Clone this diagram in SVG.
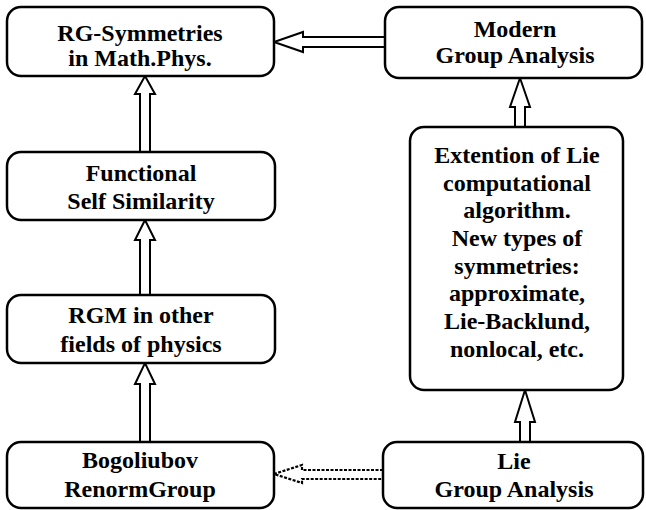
<svg xmlns="http://www.w3.org/2000/svg" width="646" height="510" viewBox="0 0 646 510">
<style>
.box{fill:#fff;stroke:#000;stroke-width:2.5}
.t{font-family:"Liberation Serif","Times New Roman",serif;font-weight:bold;font-size:24px;text-anchor:middle;fill:#000}
.arr{fill:#fff;stroke:#000;stroke-width:2;stroke-linejoin:miter}
.dot{fill:#fff;stroke:#000;stroke-width:2.2;stroke-dasharray:3 1.5}
</style>
<rect width="646" height="510" fill="#fff"/>
<g id="connectors">
<polyline class="arr" points="140,152 140,94 135,94 145,76 155,94 150,94 150,152"/>
<polyline class="arr" points="140,295 140,240 135,240 145,220 155,240 150,240 150,295"/>
<polyline class="arr" points="140,442 140,384 135,384 145,363 155,384 150,384 150,442"/>
<polyline class="arr" points="515,127 515,107 510,107 520,78 530,107 525,107 525,127"/>
<polyline class="arr" points="520,441 520,422 515,422 525,390 535,422 530,422 530,441"/>
<polyline class="arr" points="385,37 303,37 303,32 274,42 303,52 303,47 385,47"/>
<polyline class="dot" points="383,470 302,470 302,465 274,474 302,483 302,479 383,479"/>
</g>
<g id="n1"><rect class="box" x="7" y="7" width="267" height="69" rx="14"/>
<text class="t" x="140" y="41">RG-Symmetries</text><text class="t" x="140" y="66">in Math.Phys.</text></g>
<g id="n2"><rect class="box" x="385" y="7" width="257" height="71" rx="14"/>
<text class="t" x="515" y="37">Modern</text><text class="t" x="515" y="63">Group Analysis</text></g>
<g id="n3"><rect class="box" x="7" y="152" width="268" height="68" rx="14"/>
<text class="t" x="141" y="181">Functional</text><text class="t" x="141" y="209">Self Similarity</text></g>
<g id="n4"><rect class="box" x="7" y="295" width="268" height="68" rx="14"/>
<text class="t" x="141" y="323">RGM in other</text><text class="t" x="141" y="352">fields of physics</text></g>
<g id="n5"><rect class="box" x="7" y="442" width="267" height="66" rx="14"/>
<text class="t" x="140" y="468">Bogoliubov</text><text class="t" x="140" y="497">RenormGroup</text></g>
<g id="n6"><rect class="box" x="410" y="127" width="213" height="263" rx="14"/>
<text class="t" x="517" y="163">Extention of Lie</text>
<text class="t" x="517" y="191">computational</text>
<text class="t" x="517" y="218">algorithm.</text>
<text class="t" x="517" y="246">New types of</text>
<text class="t" x="517" y="274">symmetries:</text>
<text class="t" x="517" y="301">approximate,</text>
<text class="t" x="517" y="329">Lie-Backlund,</text>
<text class="t" x="517" y="357">nonlocal, etc.</text></g>
<g id="n7"><rect class="box" x="383" y="442" width="260" height="66" rx="14"/>
<text class="t" x="514" y="469">Lie</text><text class="t" x="514" y="497">Group Analysis</text></g>
</svg>
